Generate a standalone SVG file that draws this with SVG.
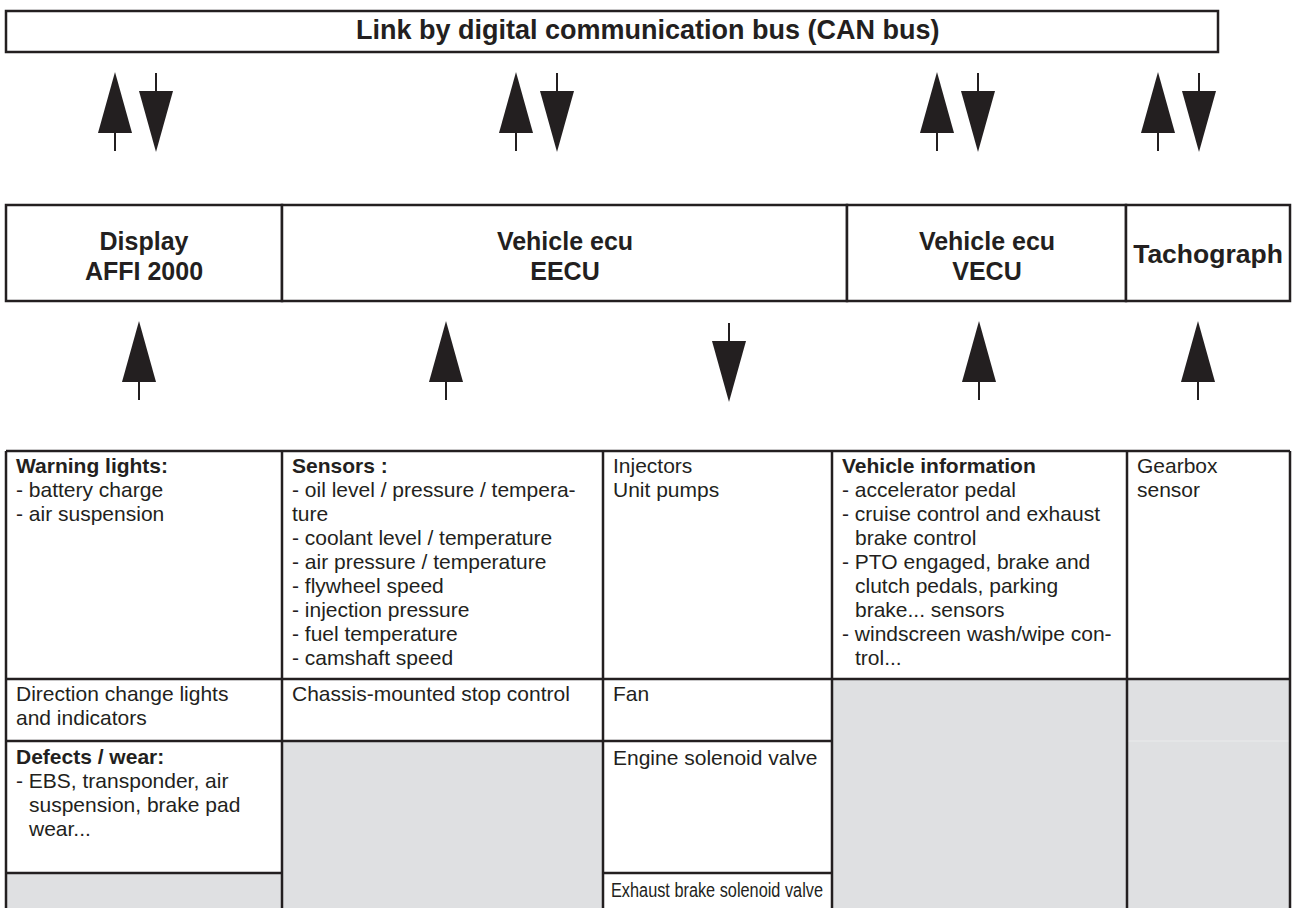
<svg xmlns="http://www.w3.org/2000/svg" width="1295" height="908" viewBox="0 0 1295 908">
<style>
  text { font-family: "Liberation Sans", Arial, Helvetica, sans-serif; fill: #231f20; }
  .box { fill: #ffffff; stroke: #231f20; stroke-width: 2.5; }
  .gray { fill: #dfe0e2; stroke: none; }
  .ln { stroke: #231f20; stroke-width: 2.5; fill: none; }
  .faint { stroke: #eaebec; stroke-width: 1; }
  .bus { font-size: 27px; font-weight: bold; }
  .hd { font-size: 25px; font-weight: bold; text-anchor: middle; }
  .t { font-size: 21px; }
  .tb { font-size: 21px; font-weight: bold; }
  .shaft { stroke: #231f20; stroke-width: 2; }
  .head { fill: #231f20; }
</style>
<defs>
  <g id="up">
    <polygon class="head" points="0,0 -17,61 17,61"/>
    <line class="shaft" x1="0" y1="60" x2="0" y2="79"/>
  </g>
  <g id="down">
    <line class="shaft" x1="0" y1="0" x2="0" y2="19"/>
    <polygon class="head" points="-17,18 17,18 0,79"/>
  </g>
</defs>
<rect width="1295" height="908" fill="#ffffff"/>

<g id="bus">
  <rect class="box" x="6" y="11" width="1212" height="41"/>
  <text class="bus" x="356" y="38.5">Link by digital communication bus (CAN bus)</text>
</g>

<g id="node-display">
  <rect class="box" x="6" y="205" width="276" height="96"/>
  <text class="hd" x="144" y="250">Display</text>
  <text class="hd" x="144" y="280">AFFI 2000</text>
</g>
<g id="node-eecu">
  <rect class="box" x="282" y="205" width="565" height="96"/>
  <text class="hd" x="565" y="250">Vehicle ecu</text>
  <text class="hd" x="565" y="280">EECU</text>
</g>
<g id="node-vecu">
  <rect class="box" x="847" y="205" width="279" height="96"/>
  <text class="hd" x="987" y="250">Vehicle ecu</text>
  <text class="hd" x="987" y="280">VECU</text>
</g>
<g id="node-tacho">
  <rect class="box" x="1126" y="205" width="164" height="96"/>
  <text class="hd" x="1208" y="263" style="font-size:26.5px">Tachograph</text>
</g>

<g id="connectors">
  <use href="#up" x="115" y="72"/>
  <use href="#down" x="156" y="73"/>
  <use href="#up" x="516" y="72"/>
  <use href="#down" x="557" y="73"/>
  <use href="#up" x="937" y="72"/>
  <use href="#down" x="978" y="73"/>
  <use href="#up" x="1158" y="72"/>
  <use href="#down" x="1199" y="73"/>

  <use href="#up" x="139" y="321"/>
  <use href="#up" x="446" y="321"/>
  <use href="#down" x="729" y="323"/>
  <use href="#up" x="979" y="321"/>
  <use href="#up" x="1198" y="321"/>
</g>

<g id="table">
  <g id="fills">
    <rect class="gray" x="6" y="873" width="276" height="35"/>
    <rect class="gray" x="282" y="741" width="321" height="167"/>
    <rect class="gray" x="832" y="679" width="295" height="229"/>
    <rect class="gray" x="1127" y="679" width="163" height="229"/>
    <line class="faint" x1="1128" y1="741" x2="1289" y2="741"/>
  </g>
  <g id="grid">
    <line class="ln" x1="6" y1="451" x2="1290" y2="451"/>
    <line class="ln" x1="6" y1="679" x2="1290" y2="679"/>
    <line class="ln" x1="6" y1="741" x2="832" y2="741"/>
    <line class="ln" x1="6" y1="873" x2="282" y2="873"/>
    <line class="ln" x1="603" y1="873" x2="832" y2="873"/>
    <line class="ln" x1="6" y1="451" x2="6" y2="908"/>
    <line class="ln" x1="282" y1="451" x2="282" y2="908"/>
    <line class="ln" x1="603" y1="451" x2="603" y2="908"/>
    <line class="ln" x1="832" y1="451" x2="832" y2="908"/>
    <line class="ln" x1="1127" y1="451" x2="1127" y2="908"/>
    <line class="ln" x1="1290" y1="451" x2="1290" y2="908"/>
  </g>

  <g id="cell-warning">
    <text class="tb" x="16" y="473">Warning lights:</text>
    <text class="t" x="16" y="497">- battery charge</text>
    <text class="t" x="16" y="521">- air suspension</text>
  </g>
  <g id="cell-sensors">
    <text class="tb" x="292" y="473">Sensors :</text>
    <text class="t" x="292" y="497">- oil level / pressure / tempera-</text>
    <text class="t" x="292" y="521">ture</text>
    <text class="t" x="292" y="545">- coolant level / temperature</text>
    <text class="t" x="292" y="569">- air pressure / temperature</text>
    <text class="t" x="292" y="593">- flywheel speed</text>
    <text class="t" x="292" y="617">- injection pressure</text>
    <text class="t" x="292" y="641">- fuel temperature</text>
    <text class="t" x="292" y="665">- camshaft speed</text>
  </g>
  <g id="cell-injectors">
    <text class="t" x="613" y="473">Injectors</text>
    <text class="t" x="613" y="497">Unit pumps</text>
  </g>
  <g id="cell-vehicle-info">
    <text class="tb" x="842" y="473">Vehicle information</text>
    <text class="t" x="842" y="497">- accelerator pedal</text>
    <text class="t" x="842" y="521">- cruise control and exhaust</text>
    <text class="t" x="855" y="545">brake control</text>
    <text class="t" x="842" y="569">- PTO engaged, brake and</text>
    <text class="t" x="855" y="593">clutch pedals, parking</text>
    <text class="t" x="855" y="617">brake... sensors</text>
    <text class="t" x="842" y="641">- windscreen wash/wipe con-</text>
    <text class="t" x="855" y="665">trol...</text>
  </g>
  <g id="cell-gearbox">
    <text class="t" x="1137" y="473">Gearbox</text>
    <text class="t" x="1137" y="497">sensor</text>
  </g>
  <g id="cell-direction">
    <text class="t" x="16" y="701">Direction change lights</text>
    <text class="t" x="16" y="725">and indicators</text>
  </g>
  <g id="cell-stop">
    <text class="t" x="292" y="701">Chassis-mounted stop control</text>
  </g>
  <g id="cell-fan">
    <text class="t" x="613" y="701">Fan</text>
  </g>
  <g id="cell-defects">
    <text class="tb" x="16" y="764">Defects / wear:</text>
    <text class="t" x="16" y="788">- EBS, transponder, air</text>
    <text class="t" x="29" y="812">suspension, brake pad</text>
    <text class="t" x="29" y="836">wear...</text>
  </g>
  <g id="cell-engine-valve">
    <text class="t" x="613" y="765">Engine solenoid valve</text>
  </g>
  <g id="cell-exhaust-valve">
    <text class="t" x="611" y="897" style="font-size:20px" textLength="212" lengthAdjust="spacingAndGlyphs">Exhaust brake solenoid valve</text>
  </g>
</g>
</svg>
